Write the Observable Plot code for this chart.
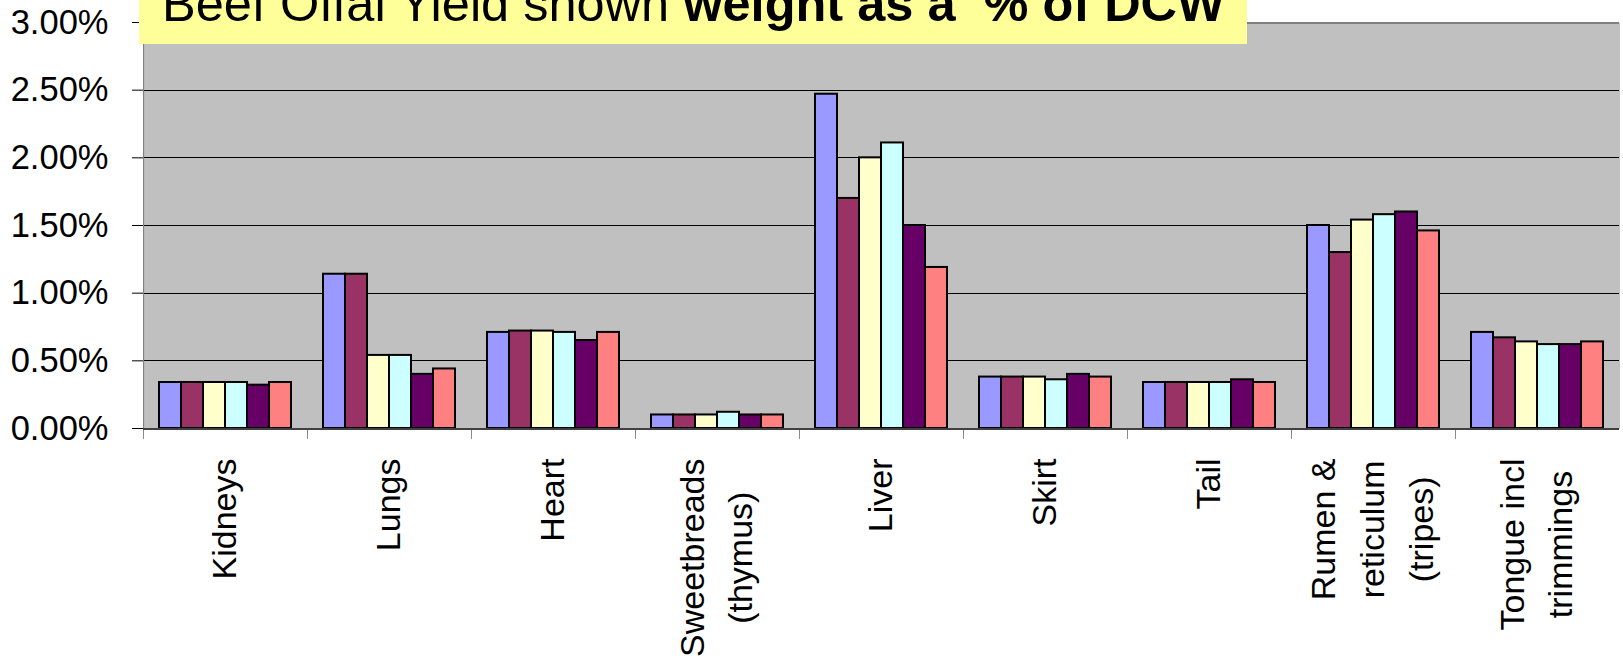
<!DOCTYPE html>
<html>
<head>
<meta charset="utf-8">
<script src="https://cdn.jsdelivr.net/npm/d3@7"></script>
<script src="https://cdn.jsdelivr.net/npm/@observablehq/plot@0.6"></script>
<style>
  html, body { margin: 0; padding: 0; background: white; overflow: hidden; }
  #wrap { position: relative; width: 1623px; height: 665px; }
  #title {
    position: absolute; left: 139px; top: 0; width: 1108px; height: 44px;
    background: #FFFF99; overflow: hidden;
    font-family: "Liberation Sans", Arial, sans-serif;
  }
  #title span {
    position: absolute; left: 23px; top: -21px; font-size: 50.5px; line-height: 50px;
    white-space: pre; color: black;
  }
</style>
</head>
<body>
<div id="wrap">
  <div id="chart"></div>
  <div id="title"><span>Beef Offal Yield shown <b>weight as a  % of DCW</b></span></div>
</div>
<script>
// Categories (offal items)
const categories = [
  "Kidneys", "Lungs", "Heart", "Sweetbreads\n(thymus)", "Liver",
  "Skirt", "Tail", "Rumen &\nreticulum\n(tripes)", "Tongue incl\ntrimmings"
];
// Series names (legend not visible in the reference)
const seriesNames = ["Series 1", "Series 2", "Series 3", "Series 4", "Series 5", "Series 6"];
// Series values (% of DCW), one entry per category
const series1 = [0.34, 1.14, 0.71, 0.10, 2.47, 0.38, 0.34, 1.50, 0.71];
const series2 = [0.34, 1.14, 0.72, 0.10, 1.70, 0.38, 0.34, 1.30, 0.67];
const series3 = [0.34, 0.54, 0.72, 0.10, 2.00, 0.38, 0.34, 1.54, 0.64];
const series4 = [0.34, 0.54, 0.71, 0.12, 2.11, 0.36, 0.34, 1.58, 0.62];
const series5 = [0.32, 0.40, 0.65, 0.10, 1.50, 0.40, 0.36, 1.60, 0.62];
const series6 = [0.34, 0.44, 0.71, 0.10, 1.19, 0.38, 0.34, 1.46, 0.64];
const seriesColors = ["#9999FF", "#993366", "#FFFFCC", "#CCFFFF", "#660066", "#FF8080"];
// Y tick values (percent)
const yTicks = [0, 0.5, 1, 1.5, 2, 2.5, 3];

const allSeries = [series1, series2, series3, series4, series5, series6];
const data = categories.flatMap((c, i) =>
  allSeries.map((arr, j) => ({cat: c, s: seriesNames[j], v: arr[i]}))
);

const W = 1623, H = 665, ML = 139, MR = 0, MT = 22, MB = 237;
const facetW = (W - ML - MR) / categories.length;

const plot = Plot.plot({
  width: W,
  height: H,
  marginLeft: ML,
  marginRight: MR,
  marginTop: MT,
  marginBottom: MB,
  style: {fontFamily: "'Liberation Sans', Arial, sans-serif", background: "white", color: "black"},
  fx: {domain: categories, paddingInner: 0, paddingOuter: 0, axis: null},
  x: {domain: seriesNames, paddingInner: 0, paddingOuter: 0.72, axis: null},
  y: {domain: [0, 3], axis: null},
  color: {domain: seriesNames, range: seriesColors},
  marks: [
    Plot.frame({fill: "#C0C0C0", shapeRendering: "crispEdges"}),
    Plot.ruleY(yTicks.filter(d => d > 0 && d < 3), {stroke: "black", strokeWidth: 1, shapeRendering: "crispEdges"}),
    Plot.ruleY([3], {stroke: "#808080", strokeWidth: 2, shapeRendering: "crispEdges"}),
    // left edge of the plot area (first category only)
    Plot.rect([categories[0]], {fx: d => d, insetRight: facetW - 2, fill: "#808080"}),
    Plot.barY(data, {fx: "cat", x: "s", y: "v", fill: "s", stroke: "black", strokeWidth: 2}),
    Plot.ruleY([0], {stroke: "#404040", strokeWidth: 2, shapeRendering: "crispEdges"}),
    // category boundary tick marks below the axis
    Plot.rect(categories, {fx: d => d, y1: 0, y2: 0, insetBottom: -11, insetRight: facetW - 1.5, fill: "#404040"}),
    Plot.axisY({anchor: "left", label: null, ticks: yTicks, tickFormat: d => d.toFixed(2) + "%", tickSize: 11, tickPadding: 24, fontSize: 34.5}),
    Plot.axisFx({anchor: "bottom", label: null, tickSize: 0, tickPadding: 30, tickRotate: -90, fontSize: 34, lineHeight: 1.43, dx: -5})
  ]
});
document.getElementById("chart").append(plot);

// center the lines of multi-line category labels along their rotated direction
const svg = plot.tagName.toLowerCase() === "svg" ? plot : plot.querySelector("svg");
svg.querySelectorAll('g[aria-label="fx-axis tick label"] text').forEach(t => {
  const spans = t.querySelectorAll("tspan");
  if (spans.length > 1) {
    let L = 0;
    spans.forEach(s => { L = Math.max(L, s.getComputedTextLength()); });
    t.setAttribute("text-anchor", "middle");
    spans.forEach(s => s.setAttribute("x", -L / 2));
  }
});
</script>
</body>
</html>
